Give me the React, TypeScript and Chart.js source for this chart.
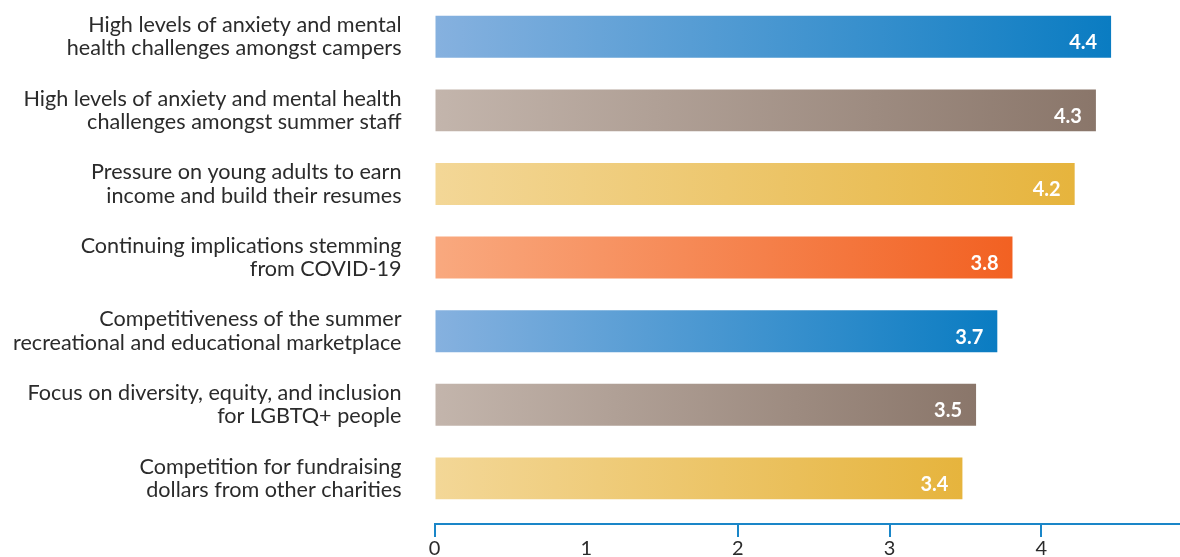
import React, { useEffect, useRef } from "react";
import { Chart, registerables } from "chart.js";

Chart.register(...registerables);

const categories: string[][] = [
  ["High levels of anxiety and mental", "health challenges amongst campers"],
  ["High levels of anxiety and mental health", "challenges amongst summer staff"],
  ["Pressure on young adults to earn", "income and build their resumes"],
  ["Continuing implications stemming", "from COVID-19"],
  ["Competitiveness of the summer", "recreational and educational marketplace"],
  ["Focus on diversity, equity, and inclusion", "for LGBTQ+ people"],
  ["Competition for fundraising", "dollars from other charities"],
];

const values: number[] = [4.46, 4.36, 4.22, 3.81, 3.71, 3.57, 3.48];
const valueLabels: string[] = ["4.4", "4.3", "4.2", "3.8", "3.7", "3.5", "3.4"];
const xTicks: number[] = [0, 1, 2, 3, 4, 5];

const gradientStart: string[] = ["#86b1df", "#c3b5ac", "#f3d797", "#f9a97f", "#86b1df", "#c3b5ac", "#f3d797"];
const gradientEnd: string[] = ["#0a7cc2", "#8a766a", "#e6b43d", "#f26122", "#0a7cc2", "#8a766a", "#e6b43d"];

const AXIS_BLUE = "#1a86c8";
const TEXT = "#2b2b2b";
const FONT = "Lato, 'Open Sans', sans-serif";

const valueLabelPlugin = {
  id: "valueLabels",
  afterDatasetsDraw(chart: any) {
    const ctx = chart.ctx;
    const meta = chart.getDatasetMeta(0);
    ctx.save();
    ctx.fillStyle = "#ffffff";
    ctx.font = `bold 20px ${FONT}`;
    ctx.textAlign = "right";
    ctx.textBaseline = "alphabetic";
    meta.data.forEach((el: any, i: number) => {
      ctx.fillText(valueLabels[i], el.x - 14, el.y + 12.5);
    });
    ctx.restore();
  },
};

export default function App() {
  const canvasRef = useRef<HTMLCanvasElement | null>(null);

  useEffect(() => {
    document.body.style.margin = "0";
    const canvas = canvasRef.current;
    if (!canvas) return;
    const chart = new Chart(canvas, {
      type: "bar",
      data: {
        datasets: [
          {
            data: values.map((v, i) => ({ x: v, y: i })) as any,
            backgroundColor: (c: any) => {
              const ch = c.chart;
              const i = c.dataIndex ?? 0;
              if (!ch.chartArea || c.type !== "data") return gradientEnd[i];
              const xs = ch.scales.x;
              const x0 = xs.getPixelForValue(0);
              const x1 = xs.getPixelForValue(values[i]);
              const g = ch.ctx.createLinearGradient(x0, 0, x1, 0);
              g.addColorStop(0, gradientStart[i]);
              g.addColorStop(1, gradientEnd[i]);
              return g;
            },
            borderWidth: 0,
            barPercentage: 0.57,
            categoryPercentage: 1,
          },
        ],
      },
      options: {
        indexAxis: "y",
        responsive: false,
        animation: false,
        layout: { padding: { left: 0, right: 20, top: 0, bottom: 0 } },
        plugins: {
          legend: { display: false },
          tooltip: { enabled: false },
        },
        scales: {
          x: {
            type: "linear",
            min: 0,
            max: 5,
            afterBuildTicks: (scale: any) => {
              scale.ticks = xTicks.map((v) => ({ value: v }));
            },
            afterFit: (scale: any) => {
              scale.paddingLeft = 0;
              scale.paddingRight = 0;
            },
            border: { display: true, color: AXIS_BLUE, width: 2 },
            grid: {
              drawOnChartArea: false,
              drawTicks: true,
              tickLength: 13,
              lineWidth: 2,
              tickColor: (c: any) => (c.tick && c.tick.value === 1 ? "rgba(0,0,0,0)" : AXIS_BLUE),
            },
            ticks: {
              color: TEXT,
              padding: 0,
              font: { family: FONT, size: 20 },
              callback: (v: any) => String(v),
            },
          },
          y: {
            type: "linear",
            reverse: true,
            offset: false,
            min: -0.5,
            max: 6.62,
            afterBuildTicks: (scale: any) => {
              scale.ticks = categories.map((_, i) => ({ value: i }));
            },
            afterFit: (scale: any) => {
              scale.width = 434.5;
              scale.paddingTop = 0;
              scale.paddingBottom = 0;
            },
            border: { display: false },
            grid: { display: false, drawTicks: false },
            ticks: {
              color: TEXT,
              padding: 33,
              font: { family: FONT, size: 21.6, lineHeight: 1.08 },
              callback: (v: any) => categories[v as number] as any,
            },
          },
        },
      },
      plugins: [valueLabelPlugin],
    });
    return () => chart.destroy();
  }, []);

  return (
    <div style={{ width: 1180, height: 557, overflow: "hidden", position: "relative" }}>
      <canvas ref={canvasRef} width={1213} height={561} style={{ display: "block" }} />
    </div>
  );
}
